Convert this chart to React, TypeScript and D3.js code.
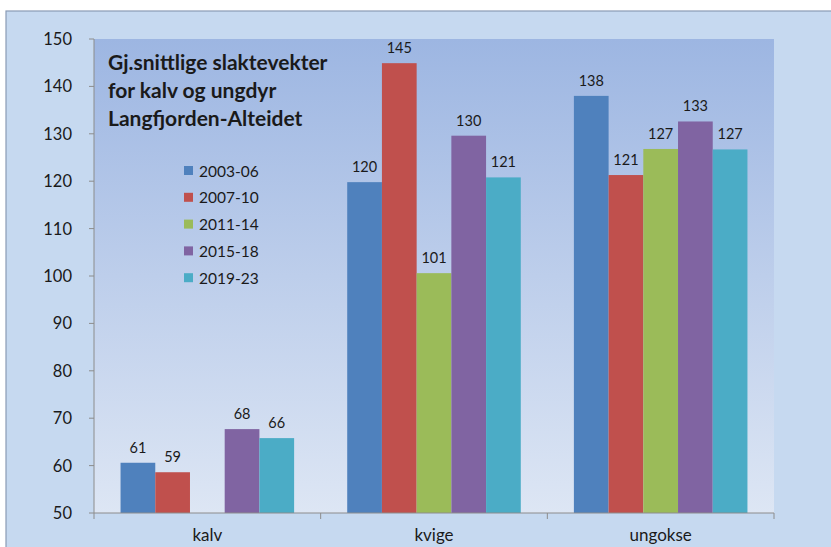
import React from "react";
import * as d3 from "d3";

const categories = ["kalv", "kvige", "ungokse"];
const seriesNames = ["2003-06", "2007-10", "2011-14", "2015-18", "2019-23"];
const seriesColors = ["#4f81bd", "#c0504d", "#9bbb59", "#8064a2", "#4bacc6"];
// values per series, in category order (null = no bar)
const s2003: (number | null)[] = [60.6, 119.8, 138.0];
const s2007: (number | null)[] = [58.6, 144.9, 121.3];
const s2011: (number | null)[] = [null, 100.6, 126.8];
const s2015: (number | null)[] = [67.7, 129.6, 132.6];
const s2019: (number | null)[] = [65.8, 120.8, 126.7];
const seriesValues = [s2003, s2007, s2011, s2015, s2019];
const yTicks = [50, 60, 70, 80, 90, 100, 110, 120, 130, 140, 150];
const titleLines = ["Gj.snittlige slaktevekter", "for kalv og ungdyr", "Langfjorden-Alteidet"];

const W = 831;
const H = 547;
const FONT = "Lato, 'Open Sans', sans-serif";

export default function App() {
  const left = 94;
  const right = 774;
  const top = 39;
  const bottom = 513;

  const x0 = d3.scaleBand<string>().domain(categories).range([left, right]).paddingInner(0).paddingOuter(0);
  const bw = x0.bandwidth();
  const gap = 1.53;
  const barW = bw / (seriesNames.length + gap);
  const groupPad = (bw - barW * seriesNames.length) / 2;
  const y = d3.scaleLinear().domain([50, 150]).range([bottom, top]);
  const fmt = d3.format(".0f");

  return (
    <svg width={W} height={H} style={{ position: "absolute", left: 0, top: 0, display: "block" }}>
      <defs>
        <linearGradient id="plotGrad" x1="0" y1="0" x2="0" y2="1">
          <stop offset="0%" stopColor="#9db6e2" />
          <stop offset="100%" stopColor="#dde6f4" />
        </linearGradient>
      </defs>
      <rect x={0} y={0} width={W} height={H} fill="#ffffff" />
      <rect x={6} y={11} width={W + 10} height={H + 10} fill="#c6d9f0" stroke="#8a9bb5" strokeWidth={1.2} />
      <rect x={left} y={top} width={right - left} height={bottom - top} fill="url(#plotGrad)" />

      {/* y axis */}
      <line x1={left} x2={left} y1={top} y2={bottom} stroke="#8c8c8c" />
      {yTicks.map((t) => (
        <g key={t}>
          <line x1={left - 5} x2={left} y1={y(t)} y2={y(t)} stroke="#8c8c8c" />
          <text x={72} y={y(t)} dy="0.36em" textAnchor="end" fontFamily={FONT} fontSize={16.5} fill="#1a1a1a">
            {t}
          </text>
        </g>
      ))}

      {/* bars */}
      {categories.map((c, ci) =>
        seriesValues.map((vals, si) => {
          const v = vals[ci];
          if (v == null) return null;
          const bx = (x0(c) as number) + groupPad + si * barW;
          return (
            <g key={c + si}>
              <rect x={bx} y={y(v)} width={barW} height={bottom - y(v)} fill={seriesColors[si]} />
              <text
                x={bx + barW / 2}
                y={y(v) - 10}
                textAnchor="middle"
                fontFamily={FONT}
                fontSize={14.5}
                fill="#1a1a1a"
              >
                {fmt(v)}
              </text>
            </g>
          );
        })
      )}

      {/* x axis */}
      <line x1={left} x2={right} y1={bottom} y2={bottom} stroke="#8c8c8c" />
      {[...categories.map((c) => x0(c) as number), right].map((xv, i) => (
        <line key={i} x1={xv} x2={xv} y1={bottom} y2={bottom + 6} stroke="#8c8c8c" />
      ))}
      {categories.map((c) => (
        <text
          key={c}
          x={(x0(c) as number) + bw / 2}
          y={541}
          textAnchor="middle"
          fontFamily={FONT}
          fontSize={17}
          fill="#1a1a1a"
        >
          {c}
        </text>
      ))}

      {/* title */}
      {titleLines.map((l, i) => (
        <text key={i} x={108} y={70 + i * 28} fontFamily={FONT} fontSize={21} fontWeight="bold" fill="#1a1a1a">
          {l}
        </text>
      ))}

      {/* legend */}
      {seriesNames.map((n, i) => (
        <g key={n} transform={`translate(0, ${171 + i * 26.8})`}>
          <rect x={184} y={-5} width={9} height={9} fill={seriesColors[i]} />
          <text x={199} y={0} dy="0.36em" fontFamily={FONT} fontSize={15.5} fill="#1a1a1a">
            {n}
          </text>
        </g>
      ))}
    </svg>
  );
}
